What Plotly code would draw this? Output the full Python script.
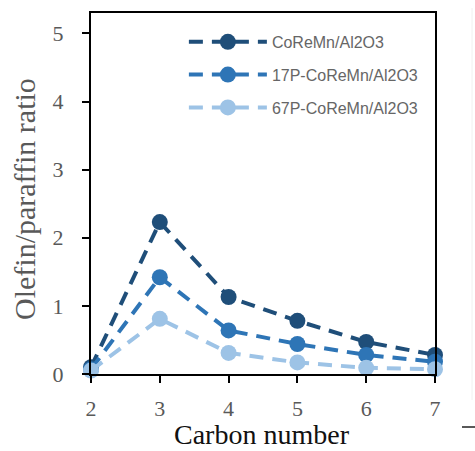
import plotly.graph_objects as go

# Olefin/paraffin ratio by carbon number for three catalysts
carbon_number = [2, 3, 4, 5, 6, 7]
coremn = [0.10, 2.23, 1.13, 0.78, 0.47, 0.28]
p17_coremn = [0.07, 1.42, 0.64, 0.44, 0.28, 0.18]
p67_coremn = [0.05, 0.81, 0.31, 0.17, 0.09, 0.07]

series_names = ["CoReMn/Al2O3", "17P-CoReMn/Al2O3", "67P-CoReMn/Al2O3"]
series_values = [coremn, p17_coremn, p67_coremn]
series_colors = ["#1F4E79", "#2E75B6", "#9DC3E6"]

fig = go.Figure()
for name, vals, col in zip(series_names, series_values, series_colors):
    fig.add_trace(go.Scatter(
        x=carbon_number, y=vals, name=name, mode="lines+markers",
        line=dict(color=col, width=4, dash="14px,9px"),
        marker=dict(color=col, size=16, line=dict(width=0)),
        cliponaxis=False, legendgroup=name,
    ))

axis_common = dict(
    showline=True, mirror=True, linecolor="black", linewidth=2,
    ticks="outside", ticklen=7, tickwidth=2, tickcolor="black",
    showgrid=False, zeroline=False, dtick=1, automargin=False,
    tickfont=dict(family="Liberation Serif", size=22, color="#595959"),
)

fig.update_xaxes(range=[2, 7], ticklabelstandoff=7, **axis_common)
fig.update_yaxes(range=[0, 5.3], ticklabelstandoff=14, **axis_common)

# plot area in pixels: left 91, right 435, top 13, bottom 374
PW, PH = 344, 361

fig.update_layout(
    width=475, height=451,
    margin=dict(l=91, r=40, t=13, b=77),
    paper_bgcolor="white", plot_bgcolor="white",
    showlegend=True,
    legend=dict(
        x=0.27, y=0.967, xanchor="left", yanchor="top",
        bgcolor="rgba(0,0,0,0)", borderwidth=0,
        font=dict(family="Liberation Sans", size=16, color="#666666"),
        itemwidth=78, tracegroupgap=9,
    ),
    annotations=[
        dict(text="Carbon number", xref="paper", yref="paper",
             x=(262 - 91) / PW, y=(374 - 451) / PH,
             xanchor="center", yanchor="bottom", showarrow=False,
             borderpad=0,
             font=dict(family="Liberation Serif", size=28, color="#111111")),
        dict(text="Olefin/paraffin ratio", xref="paper", yref="paper",
             x=(24 - 91) / PW, y=(374 - 199) / PH, textangle=-90,
             xanchor="center", yanchor="middle", showarrow=False,
             font=dict(family="Liberation Serif", size=30, color="#595959")),
    ],
    shapes=[
        dict(type="line", xref="paper", yref="paper",
             x0=(462 - 91) / PW, x1=(475 - 91) / PW,
             y0=(374 - 427) / PH, y1=(374 - 427) / PH,
             line=dict(color="#222222", width=1.5)),
        dict(type="line", xref="paper", yref="paper",
             x0=(472 - 91) / PW, x1=(472 - 91) / PW,
             y0=(374 - 8) / PH, y1=(374 - 400) / PH,
             line=dict(color="#f0f0f0", width=1)),
    ],
)

fig.write_html("out.html")
